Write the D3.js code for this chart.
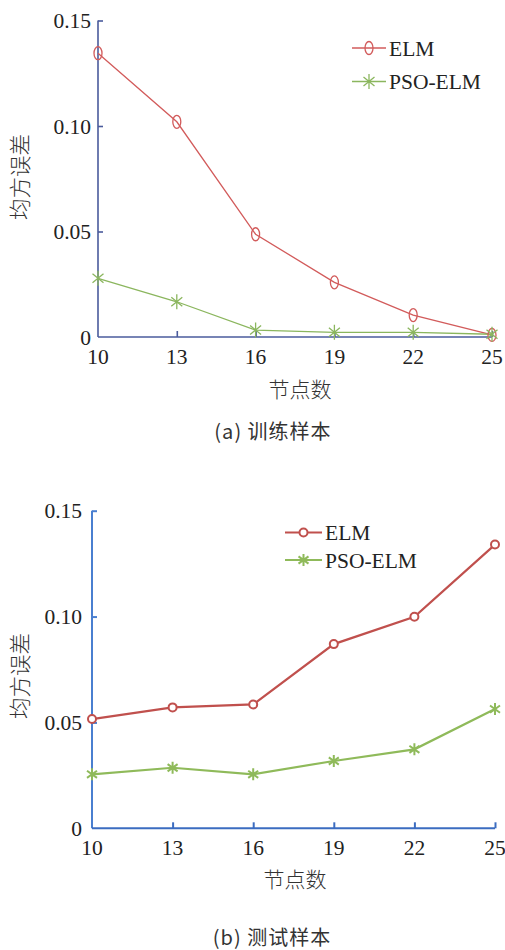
<!DOCTYPE html>
<html><head><meta charset="utf-8">
<script src="https://cdn.jsdelivr.net/npm/d3@7"></script>
<style>body{margin:0;background:#fff}svg{display:block}</style>
</head><body>
<script>
const nodes = [10, 13, 16, 19, 22, 25];
const yTicks = [0, 0.05, 0.10, 0.15];
const yTickLabels = ["0", "0.05", "0.10", "0.15"];
const seriesNames = ["ELM", "PSO-ELM"];
const trainELM = [0.1345, 0.102, 0.0487, 0.0259, 0.0104, 0.001];
const trainPSO = [0.0278, 0.0167, 0.0033, 0.0022, 0.0022, 0.0013];
const testELM = [0.0516, 0.0571, 0.0585, 0.087, 0.0999, 0.134];
const testPSO = [0.0255, 0.0286, 0.0255, 0.0318, 0.0373, 0.0563];
const xTitle = "节点数";
const yTitle = "均方误差";
const captions = ["(a) 训练样本", "(b) 测试样本"];

const svg = d3.select("body").append("svg").attr("width", 505).attr("height", 950);
const serif = "Liberation Serif, Times New Roman, DejaVu Serif, serif";
const cjk = "Noto Sans CJK SC, sans-serif";

function panel(cfg) {
  const g = svg.append("g");
  const x = d3.scaleLinear().domain([10, 25]).range([cfg.x0, cfg.x1]);
  const y = d3.scaleLinear().domain([0, 0.15]).range([cfg.y0, cfg.y1]);
  const ya = g.append("g").attr("transform", `translate(${cfg.x0},0)`)
    .call(d3.axisRight(y).tickValues(yTicks.slice(1)).tickSize(5).tickFormat(""));
  ya.select(".domain").attr("d", `M0,${cfg.y0}V${cfg.y1}`).attr("stroke", cfg.yAxisColor).attr("stroke-width", cfg.axisW);
  ya.selectAll(".tick line").attr("stroke", cfg.yAxisColor).attr("stroke-width", cfg.axisW);
  const xa = g.append("g").attr("transform", `translate(0,${cfg.y0})`)
    .call(d3.axisTop(x).tickValues(nodes.slice(1)).tickSize(cfg.xTick).tickFormat(""));
  xa.select(".domain").attr("d", `M${cfg.x0},0H${cfg.x1}`).attr("stroke", cfg.xAxisColor).attr("stroke-width", cfg.axisW);
  xa.selectAll(".tick line").attr("stroke", cfg.xAxisColor).attr("stroke-width", cfg.axisW);
  g.selectAll(".yl").data(yTicks).enter().append("text")
    .style("font-family", serif).style("font-size", "21.5px")
    .attr("x", cfg.x0 - cfg.yLabGap).attr("y", d => y(d)).attr("dy", "0.35em")
    .attr("text-anchor", "end").attr("fill", "#222")
    .text((d, i) => yTickLabels[i]);
  g.selectAll(".xl").data(nodes).enter().append("text")
    .style("font-family", serif).style("font-size", "21.5px")
    .attr("x", d => x(d)).attr("y", cfg.y0 + 19).attr("dy", "0.35em")
    .attr("text-anchor", "middle").attr("fill", "#222")
    .text(d => d);
  g.append("text").attr("x", cfg.xTitleX).attr("y", cfg.xTitleY).attr("dy", "0.35em")
    .style("font-family", cjk).style("font-size", "21px").style("font-weight", 300)
    .attr("text-anchor", "middle").attr("fill", "#333").text(xTitle);
  g.append("text").attr("transform", `translate(${cfg.yTitleX},${cfg.yTitleY}) rotate(-90)`).attr("dy", "0.35em")
    .style("font-family", cjk).style("font-size", "21.5px").style("font-weight", 300)
    .attr("text-anchor", "middle").attr("fill", "#333").text(yTitle);
  g.append("text").attr("x", cfg.capX).attr("y", cfg.capY).attr("dy", "0.35em")
    .style("font-family", cjk).style("font-size", "20px")
    .attr("text-anchor", "middle").attr("fill", "#333")
    .attr("letter-spacing", 1).text(cfg.caption);

  const line = d3.line().x((d, i) => x(nodes[i])).y(d => y(d));
  const series = [{v: cfg.elm, c: cfg.red, m: "o"}, {v: cfg.pso, c: cfg.green, m: "*"}];
  function marker(sel, m, c) {
    if (m === "o") {
      sel.append("ellipse").attr("rx", cfg.orx).attr("ry", cfg.ory)
        .attr("fill", cfg.oFill).attr("stroke", c).attr("stroke-width", cfg.mW);
    } else {
      const w = cfg.sw, h = cfg.sh;
      sel.append("path").attr("d", `M0,${-h}V${h}M${-w},${-h*0.6}L${w},${h*0.6}M${-w},${h*0.6}L${w},${-h*0.6}`)
        .attr("stroke", c).attr("stroke-width", cfg.mW).attr("fill", "none");
    }
  }
  series.forEach(s => {
    g.append("path").datum(s.v).attr("d", line).attr("fill", "none")
      .attr("stroke", s.c).attr("stroke-width", cfg.lineW);
  });
  series.forEach(s => {
    s.v.forEach((v, i) => {
      const mg = g.append("g").attr("transform", `translate(${x(nodes[i])},${y(v)})`);
      marker(mg, s.m, s.c);
    });
  });
  series.forEach((s, i) => {
    const ly = cfg.legY[i];
    g.append("line").attr("x1", cfg.legX0).attr("x2", cfg.legX1).attr("y1", ly).attr("y2", ly)
      .attr("stroke", s.c).attr("stroke-width", cfg.lineW);
    const mg = g.append("g").attr("transform", `translate(${(cfg.legX0 + cfg.legX1) / 2},${ly})`);
    marker(mg, s.m, s.c);
    g.append("text").attr("x", cfg.legX1 + 3).attr("y", ly).attr("dy", "0.35em")
      .style("font-family", serif).style("font-size", "21.5px").attr("fill", "#222").text(seriesNames[i]);
  });
}

panel({
  x0: 98, x1: 492, y0: 337, y1: 20.5, yLabGap: 7,
  yAxisColor: "#4a5b9c", xAxisColor: "#4a5b9c", axisW: 1.6, xTick: 6,
  elm: trainELM, pso: trainPSO, red: "#d25b5b", green: "#8bb65e",
  lineW: 1.3, mW: 1.3, orx: 4, ory: 6.5, oFill: "none", sw: 5.5, sh: 7.5,
  xTitleX: 300, xTitleY: 390, yTitleX: 20, yTitleY: 177, capX: 273, capY: 432,
  caption: captions[0], legX0: 352, legX1: 386, legY: [48, 81.5]
});
panel({
  x0: 92, x1: 495, y0: 828.3, y1: 510.7, yLabGap: 10,
  yAxisColor: "#4a7fd0", xAxisColor: "#3b6cc0", axisW: 2, xTick: 6,
  elm: testELM, pso: testPSO, red: "#c0504d", green: "#8fba5a",
  lineW: 2.2, mW: 2, orx: 4, ory: 4, oFill: "#fff", sw: 5, sh: 6,
  xTitleX: 295, xTitleY: 880, yTitleX: 20, yTitleY: 676, capX: 272, capY: 938,
  caption: captions[1], legX0: 285, legX1: 322, legY: [532.5, 560]
});
</script>
</body></html>
